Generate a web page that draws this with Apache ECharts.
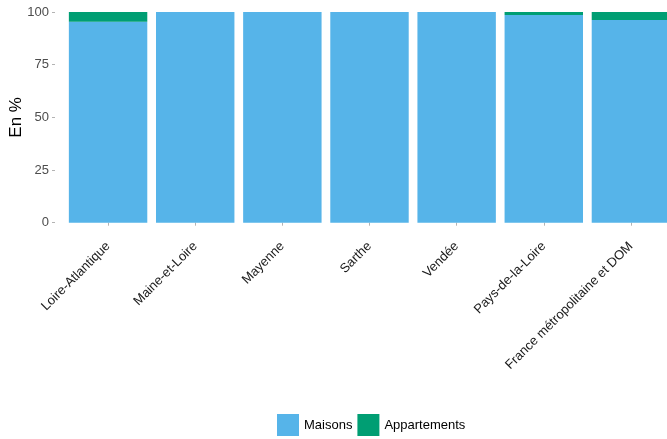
<!DOCTYPE html>
<html>
<head>
<meta charset="utf-8">
<script src="https://cdn.jsdelivr.net/npm/echarts@6/dist/echarts.min.js"></script>
<style>html,body{margin:0;padding:0;background:#fff;}#c{width:667px;height:439px;}</style>
</head>
<body>
<div id="c"></div>
<script>
var categories = ["Loire-Atlantique", "Maine-et-Loire", "Mayenne", "Sarthe", "Vendée", "Pays-de-la-Loire", "France métropolitaine et DOM"];
var maisons = [95.4, 100, 100, 100, 100, 98.6, 96.2];
var appartements = [4.6, 0, 0, 0, 0, 1.4, 3.8];
var yTicks = [0, 25, 50, 75, 100];

var chart = echarts.init(document.getElementById('c'), null, {renderer: 'canvas'});
var font = 'Liberation Sans, Arial, sans-serif';
chart.setOption({
  animation: false,
  textStyle: {fontFamily: font},
  grid: {left: 64.5, width: 610, top: 12, height: 210.7, containLabel: false, outerBoundsMode: 'none'},
  legend: {
    left: 277, top: 414, itemWidth: 22, itemHeight: 22, itemGap: 5, padding: 0,
    icon: 'rect',
    textStyle: {fontFamily: font, fontSize: 13, color: '#000'},
    data: ['Maisons', 'Appartements']
  },
  xAxis: {
    type: 'category', data: categories, offset: 10.5,
    axisLine: {show: false},
    axisTick: {show: true, length: 3, alignWithLabel: true, lineStyle: {color: '#b3b3b3'}},
    axisLabel: {rotate: 45, margin: 11, interval: 0, fontSize: 13, color: '#1a1a1a', fontFamily: font}
  },
  yAxis: {
    type: 'value', min: 0, max: 100, interval: 25, offset: 9.5,
    name: 'En %', nameLocation: 'middle', nameGap: 30, nameRotate: 90, nameMoveOverlap: false,
    nameTextStyle: {fontSize: 17, color: '#000', fontFamily: font},
    splitLine: {show: false},
    axisLine: {show: false},
    axisTick: {show: true, length: 3, lineStyle: {color: '#b3b3b3'}},
    axisLabel: {margin: 6, fontSize: 13, color: '#4d4d4d', fontFamily: font,
      formatter: function(v){ return yTicks.indexOf(v) >= 0 ? String(v) : ''; }}
  },
  series: [
    {name: 'Maisons', type: 'bar', stack: 't', data: maisons, barCategoryGap: '10%',
     itemStyle: {color: '#56B4E9'}},
    {name: 'Appartements', type: 'bar', stack: 't', data: appartements, barCategoryGap: '10%',
     itemStyle: {color: '#009E73'}}
  ]
});
</script>
</body>
</html>
